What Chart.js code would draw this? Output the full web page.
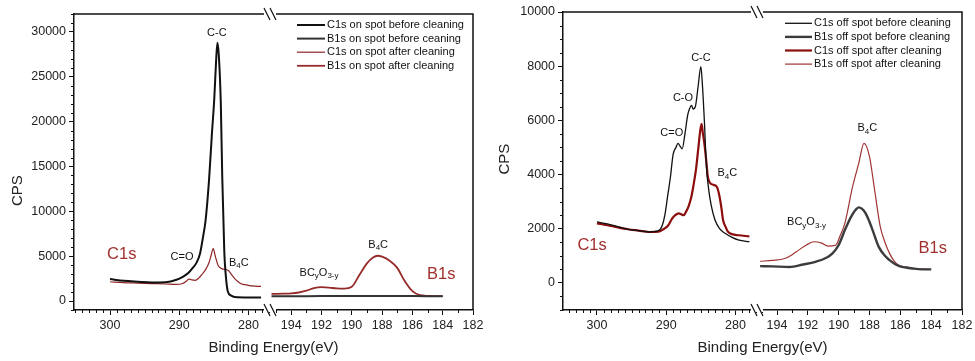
<!DOCTYPE html>
<html>
<head>
<meta charset="utf-8">
<script src="https://cdn.jsdelivr.net/npm/chart.js@4.4.1/dist/chart.umd.min.js"></script>
<style>
    body { margin: 0; background: #fff; }
    #wrap { position: relative; width: 975px; height: 361px; }
    .panel { position: absolute; top: 0; height: 361px; }
    #p1 { left: 0; width: 487px; }
    #p2 { left: 487px; width: 488px; }
</style>
</head>
<body>
<div id="wrap">
    <div class="panel" id="p1"><canvas id="onSpot"></canvas></div>
    <div class="panel" id="p2"><canvas id="offSpot"></canvas></div>
</div>
<script>
// ---- on spot (left panel) ----
const onC1sBeforeE = [300, 298, 296, 294, 292, 290.4, 289.5, 288.7, 288, 287.5, 287, 286.6, 286.2, 285.7, 285.3, 284.95, 284.7, 284.5, 284.3, 284.0, 283.8, 283.5, 283.3, 283.0, 282.5, 282, 280, 278.2];
const onC1sBefore  = [2450, 2250, 2150, 2070, 2100, 2370, 2700, 3120, 3750, 4280, 5300, 7000, 9000, 13500, 18500, 22500, 26500, 28800, 27500, 22000, 14000, 5500, 3000, 1100, 600, 450, 400, 400];
const onC1sAfterE  = [300, 298, 296, 294, 292, 290.5, 289.5, 289, 288.6, 288.2, 287.7, 287.2, 286.7, 286.2, 285.7, 285.4, 285.1, 284.8, 284.4, 284.0, 283.6, 283.2, 282.9, 282.5, 282.0, 281.5, 281.0, 280.3, 279.5, 278.2];
const onC1sAfter   = [2150, 2050, 2000, 1950, 1900, 1850, 1950, 2200, 2450, 2350, 2300, 2550, 3000, 3500, 4300, 5100, 5850, 5000, 4000, 3650, 3550, 3500, 3400, 3000, 2500, 2150, 1900, 1800, 1680, 1630];
const onB1sBeforeE = [195.3, 194, 192, 190, 188, 186, 184];
const onB1sBefore  = [540, 540, 550, 550, 560, 550, 540];
const onB1sAfterE  = [195.3, 194.5, 194, 193.5, 193, 192.5, 192, 191.5, 191, 190.5, 190, 189.5, 189, 188.6, 188.3, 188, 187.5, 187, 186.5, 186, 185.5, 185, 184];
const onB1sAfter   = [800, 820, 850, 950, 1150, 1450, 1550, 1500, 1400, 1380, 1600, 2900, 4200, 4850, 5050, 4950, 4500, 3700, 2200, 1100, 650, 580, 550];

// ---- off spot (right panel) ----
const offC1sBeforeE = [300, 298.5, 297, 295.5, 294, 292.5, 291.2, 290.6, 290.2, 289.8, 289.4, 289.0, 288.6, 288.3, 288.0, 287.7, 287.3, 286.9, 286.6, 286.35, 286.1, 285.8, 285.4, 285.0, 284.8, 284.5, 284.2, 283.9, 283.5, 283.0, 282.3, 281.5, 280.5, 279.5, 278.0];
const offC1sBefore  = [2250, 2180, 2080, 1980, 1930, 1880, 1920, 2100, 2500, 3200, 3900, 4750, 5000, 5150, 5050, 4950, 5500, 6200, 6450, 6550, 6420, 6500, 7250, 7980, 7400, 6000, 4300, 3500, 2850, 2350, 2000, 1830, 1680, 1580, 1520];
const offC1sAfterE  = [300, 298.5, 297, 295.5, 294, 292.5, 291.1, 290.3, 289.7, 289.2, 288.7, 288.2, 287.8, 287.5, 287.1, 286.8, 286.4, 286.1, 285.7, 285.4, 285.1, 284.9, 284.7, 284.5, 284.2, 284.0, 283.7, 283.2, 282.7, 282.3, 282.0, 281.8, 281.4, 281.1, 280.5, 279.6, 278.0];
const offC1sAfter   = [2200, 2130, 2050, 1980, 1930, 1880, 1890, 2000, 2130, 2350, 2500, 2570, 2530, 2500, 2650, 2810, 3150, 3550, 4200, 4900, 5600, 5870, 5500, 5150, 4450, 3920, 3700, 3620, 3550, 3180, 2700, 2320, 2050, 1890, 1800, 1760, 1720];
const offB1sBeforeE = [195.1, 194.3, 193.2, 192.3, 191.5, 190.8, 190.4, 190.0, 189.6, 189.2, 188.9, 188.7, 188.5, 188.25, 188.0, 187.8, 187.4, 187.0, 186.7, 186.3, 185.9, 185.3, 184.6, 184.0];
const offB1sBefore  = [620, 610, 590, 680, 780, 930, 1090, 1400, 1950, 2440, 2700, 2790, 2740, 2570, 2250, 1950, 1330, 1000, 840, 680, 590, 540, 500, 500];
const offB1sAfterE  = [195.1, 194.3, 193.5, 193.0, 192.6, 192.1, 191.6, 191.1, 190.7, 190.2, 189.9, 189.6, 189.1, 188.7, 188.36, 188.0, 187.7, 187.3, 187.0, 186.7, 186.4, 186.1, 185.5, 185.0, 184.5, 184.0];
const offB1sAfter   = [800, 830, 900, 1050, 1210, 1400, 1520, 1470, 1360, 1390, 1750, 2200, 3550, 4410, 5150, 4660, 3550, 2070, 1500, 1090, 800, 650, 580, 530, 510, 500];

const FONT = 'Liberation Sans, Arial, Helvetica, sans-serif';
const RED = '#a0302d';

function toPoints(xs, ys) {
    return xs.map((x, i) => ({ x: x, y: ys[i] }));
}

// Draws frame, minor ticks, axis break, titles, labels and the legend
const decorPlugin = {
    id: 'decor',
    afterDraw(chart, args, opts) {
        const ctx = chart.ctx;
        const area = chart.chartArea;
        const x1 = chart.scales.x1, y = chart.scales.y;
        ctx.save();

        // top and right frame
        ctx.strokeStyle = '#111';
        ctx.lineWidth = 1.5;
        ctx.beginPath();
        ctx.moveTo(area.left, area.top);
        ctx.lineTo(area.right, area.top);
        ctx.lineTo(area.right, area.bottom);
        ctx.stroke();

        // minor ticks
        ctx.lineWidth = 1;
        ctx.beginPath();
        opts.minorX.forEach(m => {
            const s = chart.scales[m.axis];
            for (let v = Math.ceil(s.min / m.step) * m.step; v <= s.max; v += m.step) {
                if (Math.abs(v / m.major - Math.round(v / m.major)) < 1e-6) continue;
                const px = Math.round(s.getPixelForValue(v)) + 0.5;
                ctx.moveTo(px, area.bottom);
                ctx.lineTo(px, area.bottom + 3);
            }
        });
        for (let v = Math.ceil(y.min / opts.minorY) * opts.minorY; v <= y.max; v += opts.minorY) {
            if (v % opts.majorY === 0) continue;
            const py = Math.round(y.getPixelForValue(v)) + 0.5;
            ctx.moveTo(area.left, py);
            ctx.lineTo(area.left - 3, py);
        }
        ctx.stroke();

        // axis break marks on top and bottom
        const bx = x1.right;
        [area.top, area.bottom].forEach(by => {
            ctx.fillStyle = '#fff';
            ctx.fillRect(bx - 6, by - 2, 12, 4);
            ctx.strokeStyle = '#111';
            ctx.lineWidth = 1.2;
            ctx.beginPath();
            [-3, 3].forEach(d => {
                ctx.moveTo(bx + d - 3, by - 6);
                ctx.lineTo(bx + d + 3, by + 6);
            });
            ctx.stroke();
        });

        // axis titles
        ctx.fillStyle = '#222';
        ctx.font = '15px ' + FONT;
        ctx.textAlign = 'center';
        ctx.textBaseline = 'middle';
        ctx.fillText('Binding Energy(eV)', (area.left + area.right) / 2, 348);
        ctx.save();
        ctx.translate(18, y.getPixelForValue(opts.cpsAt));
        ctx.rotate(-Math.PI / 2);
        ctx.fillText('CPS', 0, 0);
        ctx.restore();

        // peak and region labels (parts: [text, isSubscript])
        opts.labels.forEach(l => {
            const size = l.size || 11;
            const subSize = Math.round(size * 0.75);
            let w = 0;
            l.parts.forEach(p => {
                ctx.font = (p[1] ? subSize : size) + 'px ' + FONT;
                w += ctx.measureText(p[0]).width;
            });
            let px = chart.scales[l.axis].getPixelForValue(l.e);
            const py = y.getPixelForValue(l.v);
            if (l.align !== 'left') px -= w / 2;
            ctx.fillStyle = l.color || '#111';
            ctx.textAlign = 'left';
            l.parts.forEach(p => {
                ctx.font = (p[1] ? subSize : size) + 'px ' + FONT;
                ctx.fillText(p[0], px, py + (p[1] ? 3.5 : 0));
                px += ctx.measureText(p[0]).width;
            });
        });

        // legend
        const lg = opts.legend;
        ctx.font = '11px ' + FONT;
        ctx.textAlign = 'left';
        chart.data.datasets.forEach((ds, i) => {
            const ly = lg.y + i * lg.step;
            ctx.strokeStyle = ds.borderColor;
            ctx.lineWidth = ds.borderWidth;
            ctx.beginPath();
            ctx.moveTo(lg.x, ly);
            ctx.lineTo(lg.x + lg.len, ly);
            ctx.stroke();
            ctx.fillStyle = '#111';
            ctx.fillText(ds.label, lg.x + lg.len + 2, ly);
        });
        ctx.restore();
    }
};

// major ticks at every multiple of step inside the axis range
function stepTicks(step) {
    return s => {
        const ticks = [];
        for (let v = Math.ceil(s.min / step) * step; v <= s.max + 1e-9; v += step) {
            ticks.push({ value: Math.round(v * 1000) / 1000 });
        }
        s.ticks = ticks;
    };
}

function makePanel(canvasId, cfg) {
    const tickFont = { family: FONT, size: 12.5 };
    const xAxis = (min, max, step, weight) => ({
        type: 'linear',
        position: 'bottom',
        stack: 'energy',
        stackWeight: weight,
        reverse: true,
        min: min,
        max: max,
        afterBuildTicks: stepTicks(step),
        grid: { drawOnChartArea: false, tickLength: 5, tickColor: '#111', tickWidth: 1 },
        border: { color: '#111', width: 1.5 },
        ticks: {
            autoSkip: false, maxRotation: 0,
            padding: 3, color: '#222', font: tickFont,
            callback: v => String(v)
        },
        afterFit: s => { s.height = 51; s.paddingLeft = 0; s.paddingRight = 0; }
    });

    return new Chart(document.getElementById(canvasId), {
        type: 'line',
        data: { datasets: cfg.datasets },
        plugins: [decorPlugin],
        options: {
            responsive: true,
            maintainAspectRatio: false,
            animation: false,
            devicePixelRatio: 1,
            layout: { padding: cfg.padding },
            elements: { point: { radius: 0 }, line: { cubicInterpolationMode: 'monotone' } },
            scales: {
                x1: xAxis(cfg.x1[0], cfg.x1[1], 10, cfg.x1[2]),
                x2: xAxis(cfg.x2[0], cfg.x2[1], 2, cfg.x2[2]),
                y: {
                    type: 'linear',
                    position: 'left',
                    min: cfg.yRange[0],
                    max: cfg.yRange[1],
                    afterBuildTicks: stepTicks(cfg.yStep),
                    grid: { drawOnChartArea: false, tickLength: 5, tickColor: '#111', tickWidth: 1 },
                    border: { color: '#111', width: 1.5 },
                    ticks: {
                        autoSkip: false, padding: 3,
                        color: '#222', font: tickFont,
                        callback: v => String(v)
                    },
                    afterFit: s => { s.width = cfg.yWidth; s.paddingTop = 0; s.paddingBottom = 0; }
                }
            },
            plugins: {
                legend: { display: false },
                tooltip: { enabled: false },
                decor: cfg.decor
            }
        }
    });
}

function series(label, xs, ys, axis, color, width) {
    return {
        label: label,
        data: toPoints(xs, ys),
        xAxisID: axis,
        yAxisID: 'y',
        borderColor: color,
        borderWidth: width,
        fill: false
    };
}

makePanel('onSpot', {
    padding: { left: 0, top: 14, right: 14, bottom: 0 },
    yWidth: 74,
    yRange: [-1000, 32000],
    yStep: 5000,
    x1: [276.9, 305.2, 196],
    x2: [182, 195.4, 203],
    datasets: [
        series('C1s on spot before cleaning', onC1sBeforeE, onC1sBefore, 'x1', '#111', 2),
        series('B1s on spot before ceaning', onB1sBeforeE, onB1sBefore, 'x2', '#333', 2),
        series('C1s on spot after cleaning', onC1sAfterE, onC1sAfter, 'x1', '#8e2424', 1.2),
        series('B1s on spot after cleaning', onB1sAfterE, onB1sAfter, 'x2', '#962b2b', 1.8)
    ],
    decor: {
        minorX: [{ axis: 'x1', step: 1, major: 10 }, { axis: 'x2', step: 1, major: 2 }],
        minorY: 1000, majorY: 5000,
        cpsAt: 12300,
        legend: { x: 297, y: 25, step: 13.6, len: 28 },
        labels: [
            { parts: [['C-C', 0]], axis: 'x1', e: 284.57, v: 29920 },
            { parts: [['C=O', 0]], axis: 'x1', e: 289.6, v: 4940 },
            { parts: [['B', 0], ['4', 1], ['C', 0]], axis: 'x1', e: 281.4, v: 4270 },
            { parts: [['BC', 0], ['y', 1], ['O', 0], ['3-y', 1]], axis: 'x2', e: 193.45, v: 3160, align: 'left' },
            { parts: [['B', 0], ['4', 1], ['C', 0]], axis: 'x2', e: 188.26, v: 6280 },
            { parts: [['C1s', 0]], axis: 'x1', e: 298.3, v: 5160, size: 16.5, color: RED },
            { parts: [['B1s', 0]], axis: 'x2', e: 184.1, v: 2930, size: 16.5, color: RED }
        ]
    }
});

makePanel('offSpot', {
    padding: { left: 0, top: 12, right: 13, bottom: 0 },
    yWidth: 76,
    yRange: [-1000, 10000],
    yStep: 2000,
    x1: [276.9, 304.9, 194],
    x2: [182, 195.3, 205],
    datasets: [
        series('C1s off spot before cleaning', offC1sBeforeE, offC1sBefore, 'x1', '#111', 1.3),
        series('B1s off spot before cleaning', offB1sBeforeE, offB1sBefore, 'x2', '#3c3c3c', 2.4),
        series('C1s off spot after cleaning', offC1sAfterE, offC1sAfter, 'x1', '#8b0d0d', 2.2),
        series('B1s off spot after cleaning', offB1sAfterE, offB1sAfter, 'x2', '#a03434', 1.2)
    ],
    decor: {
        minorX: [{ axis: 'x1', step: 1, major: 10 }, { axis: 'x2', step: 1, major: 2 }],
        minorY: 500, majorY: 2000,
        cpsAt: 4570,
        legend: { x: 298, y: 23.3, step: 13.6, len: 27 },
        labels: [
            { parts: [['C-C', 0]], axis: 'x1', e: 284.99, v: 8310 },
            { parts: [['C-O', 0]], axis: 'x1', e: 287.58, v: 6830 },
            { parts: [['C=O', 0]], axis: 'x1', e: 289.2, v: 5530 },
            { parts: [['B', 0], ['4', 1], ['C', 0]], axis: 'x1', e: 281.18, v: 4060 },
            { parts: [['BC', 0], ['y', 1], ['O', 0], ['3-y', 1]], axis: 'x2', e: 193.35, v: 2240, align: 'left' },
            { parts: [['B', 0], ['4', 1], ['C', 0]], axis: 'x2', e: 188.14, v: 5720 },
            { parts: [['C1s', 0]], axis: 'x1', e: 300.7, v: 1390, size: 16.5, color: RED },
            { parts: [['B1s', 0]], axis: 'x2', e: 183.9, v: 1280, size: 16.5, color: RED }
        ]
    }
});
</script>
</body>
</html>
